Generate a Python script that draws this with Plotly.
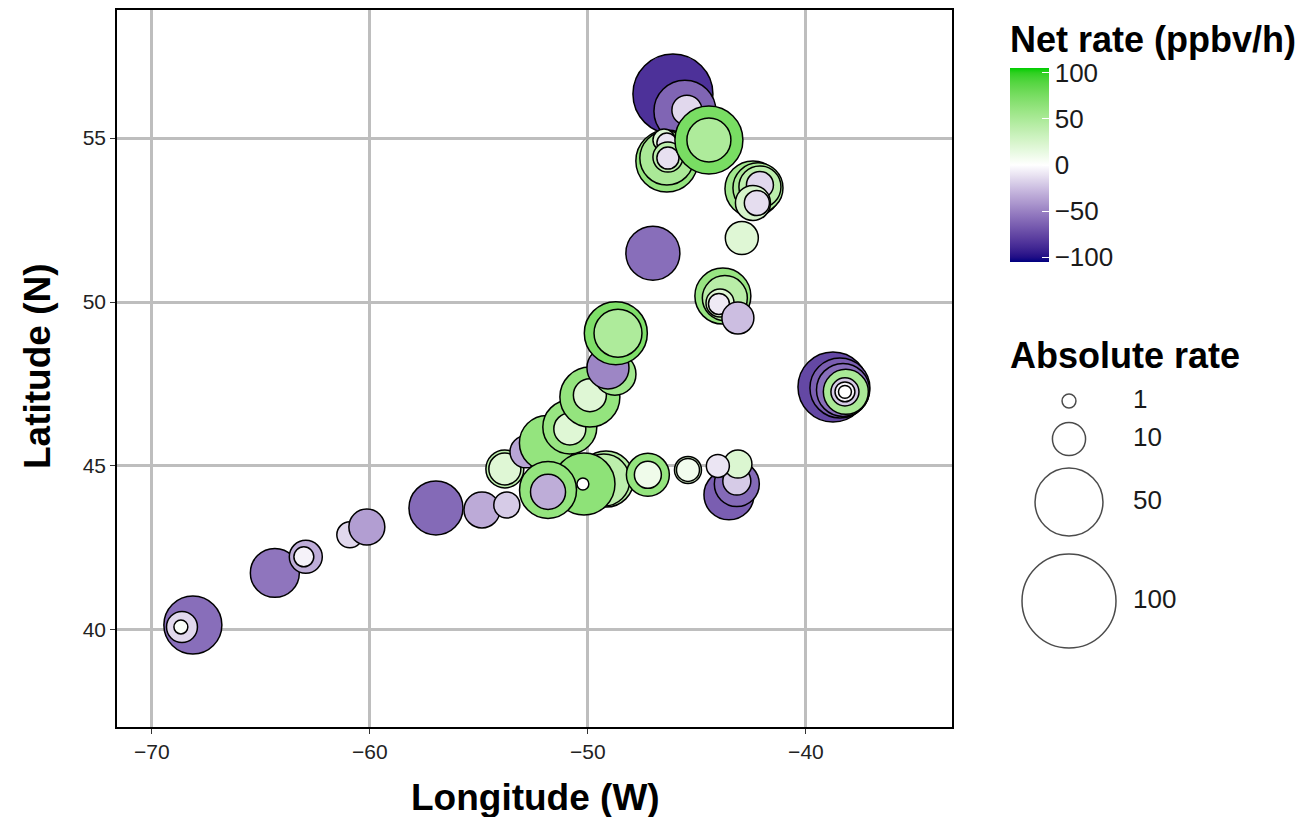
import numpy as np
import plotly.graph_objects as go

# ---------------- data ----------------
lon = [-68.12, -68.62, -68.67, -64.36, -62.94, -63.03, -60.92, -60.14, -56.97, -54.86, -53.72,
       -53.81, -53.81, -52.84, -51.88, -50.83, -50.83, -49.91, -49.91, -48.76, -49.08, -48.72, -48.62,
       -49.17, -49.27, -50.18, -51.83, -51.83, -50.23, -47.25, -47.25, -45.41, -45.41,
       -43.53, -43.17, -43.17, -43.12, -44.04,
       -46.10, -45.55, -45.46,
       -46.38, -46.38, -46.51, -46.38, -46.33, -46.33,
       -44.45, -44.45,
       -42.43, -42.20, -42.11, -42.11, -42.43, -42.25,
       -42.94, -47.02,
       -43.81, -43.72, -43.94, -43.99, -43.12,
       -38.76, -38.44, -38.30, -38.17, -38.21, -38.21, -38.21]
lat = [40.15, 40.09, 40.09, 41.74, 42.23, 42.23, 42.90, 43.14, 43.72, 43.66, 43.81,
       44.91, 44.91, 45.43, 45.70, 46.19, 46.13, 47.10, 47.16, 47.80, 47.99, 49.05, 49.05,
       44.60, 44.57, 44.45, 44.27, 44.21, 44.45, 44.73, 44.73, 44.88, 44.88,
       44.12, 44.45, 44.54, 45.06, 45.00,
       56.34, 55.82, 55.85,
       54.30, 54.39, 54.94, 54.85, 54.42, 54.39,
       54.94, 54.94,
       53.45, 53.48, 53.51, 53.57, 53.02, 53.02,
       51.95, 51.49,
       50.18, 50.12, 49.97, 49.94, 49.51,
       47.41, 47.38, 47.32, 47.26, 47.26, 47.26, 47.26]
net_rate = [-58, -15, 3, -55, -32, -5, -15, -38, -60, -33, -20,
            40, 20, -35, 62, 60, 20, 62, 20, 55, -48, 72, 48,
            45, 40, 65, 62, -32, 0, 62, 10, 28, 8,
            -65, -60, -20, 22, -10,
            -85, -62, -15,
            62, 50, 20, -10, 40, -12,
            75, 48,
            55, 50, 40, -15, 25, -13,
            20, -58,
            60, 42, 20, -8, -25,
            -75, -65, -58, 50, -20, -3, 0]
abs_rate = [35.5, 8.5, 1.0, 24.4, 9.9, 2.8, 5.6, 12.1, 30.3, 12.1, 5.6,
            13.7, 9.2, 9.2, 31.6, 30.3, 9.2, 38.2, 9.9, 17.3, 17.3, 42.5, 23.3,
            32.8, 27.9, 41.0, 34.1, 11.4, 0.6, 18.2, 6.1, 6.1, 4.1,
            25.6, 20.2, 6.7, 6.7, 4.1,
            71.0, 41.0, 7.9,
            41.0, 30.3, 3.7, 2.8, 7.9, 3.7,
            50.1, 19.2,
            32.8, 25.6, 17.3, 6.1, 11.4, 5.1,
            9.9, 30.3,
            32.8, 20.2, 6.7, 3.2, 9.2,
            53.3, 38.2, 29.1, 20.2, 6.7, 2.8, 0.8]

size_legend_vals = [1, 10, 50, 100]
size_legend_labels = ["1", "10", "50", "100"]
color_ticks = [-100, -50, 0, 50, 100]
color_ticktext = ["\u2212100", "\u221250", "0", "50", "100"]
x_ticks = [-70, -60, -50, -40]
y_ticks = [40, 45, 50, 55]

# ---------------- colour scale: Lab interpolation (gradient2 style) ----------------
def hex2rgb(h):
    h = h.lstrip('#')
    return np.array([int(h[i:i + 2], 16) for i in (0, 2, 4)], float)

M = np.array([[0.4124, 0.3576, 0.1805], [0.2126, 0.7152, 0.0722], [0.0193, 0.1192, 0.9505]])
WHITE_PT = np.array([0.95047, 1.0, 1.08883])

def rgb2lab(rgb):
    c = rgb / 255.0
    lin = np.where(c > 0.04045, ((c + 0.055) / 1.055) ** 2.4, c / 12.92)
    xyz = M @ lin / WHITE_PT
    f = np.where(xyz > 0.008856, np.cbrt(xyz), 7.787 * xyz + 16 / 116)
    return np.array([116 * f[1] - 16, 500 * (f[0] - f[1]), 200 * (f[1] - f[2])])

def lab2rgb(lab):
    L, a, b = lab
    fy = (L + 16) / 116
    fx = fy + a / 500
    fz = fy - b / 200
    f = np.array([fx, fy, fz])
    xyz = np.where(f ** 3 > 0.008856, f ** 3, (f - 16 / 116) / 7.787) * WHITE_PT
    lin = np.linalg.inv(M) @ xyz
    lin = np.clip(lin, 0, 1)
    c = np.where(lin > 0.0031308, 1.055 * lin ** (1 / 2.4) - 0.055, 12.92 * lin)
    c = np.clip(c * 255, 0, 255).round().astype(int)
    return "rgb(%d,%d,%d)" % tuple(c)

low, mid, high = rgb2lab(hex2rgb("#000080")), rgb2lab(hex2rgb("#FFFFFF")), rgb2lab(hex2rgb("#00CD00"))
colorscale = []
for t in np.linspace(0, 1, 41):
    v = 2 * t - 1
    lab = mid + (low - mid) * (-v) if v < 0 else mid + (high - mid) * v
    colorscale.append([float(t), lab2rgb(lab)])

CLIM = 105

def diam(v):
    return 5 + 8.9 * np.sqrt(np.asarray(v, float))

# page body has an 8px margin, so the figure is drawn 8px in from the window corner
OFF = 8
W, H = 1311 - OFF, 817 - OFF
def px_x(p): return (p - OFF) / W
def px_y(p): return 1 - (p - OFF) / H

FONT = "Liberation Sans, Arial, sans-serif"

fig = go.Figure()
fig.add_trace(go.Scatter(
    x=lon, y=lat, mode="markers",
    marker=dict(size=diam(abs_rate), color=net_rate, colorscale=colorscale,
                cmin=-CLIM, cmax=CLIM, opacity=1,
                line=dict(color="black", width=1.5),
                colorbar=dict(x=px_x(1010), xanchor="left", y=px_y(165), yanchor="middle",
                              xpad=0, ypad=0,
                              lenmode="pixels", len=194, thickness=39, outlinewidth=0,
                              tickvals=color_ticks, ticktext=color_ticktext,
                              ticks="inside", tickcolor="white", ticklen=7, tickwidth=1.2,
                              tickfont=dict(family=FONT, size=26, color="#1a1a1a"))),
    showlegend=False, hoverinfo="x+y"))

# size legend on auxiliary axes (pixel-like units)
leg_y = [401, 439, 502, 601]
fig.add_trace(go.Scatter(
    x=[1069] * 4, y=leg_y, mode="markers", xaxis="x2", yaxis="y2",
    marker=dict(size=diam(size_legend_vals), color="white", line=dict(color="black", width=1.5)),
    showlegend=False, hoverinfo="skip"))
fig.add_trace(go.Scatter(
    x=[1133] * 4, y=leg_y, mode="text", xaxis="x2", yaxis="y2",
    text=size_legend_labels, textposition="middle right",
    textfont=dict(family=FONT, size=26, color="#1a1a1a"),
    showlegend=False, hoverinfo="skip"))

axis_common = dict(showgrid=True, gridcolor="#bebebe", gridwidth=2.6, zeroline=False,
                   showline=True, mirror=True, linecolor="black", linewidth=1.6,
                   ticks="outside", ticklen=5, tickcolor="#333333", tickwidth=1.3,
                   tickfont=dict(family=FONT, size=21, color="#222222"), automargin=False)

fig.update_layout(
    width=W, height=H, margin=dict(l=0, r=0, t=0, b=0),
    paper_bgcolor="white", plot_bgcolor="white",
    xaxis=dict(domain=[px_x(117), px_x(952)], range=[-71.6, -33.3], tickvals=x_ticks, **axis_common),
    yaxis=dict(domain=[px_y(727), px_y(9.5)], range=[37.04, 58.92], tickvals=y_ticks, **axis_common),
    xaxis2=dict(domain=[px_x(1000), px_x(1300)], range=[1000, 1300], visible=False, anchor="y2"),
    yaxis2=dict(domain=[px_y(680), px_y(370)], range=[680, 370], visible=False, anchor="x2"),
    annotations=[
        dict(text="<b>Longitude (W)</b>", x=px_x(535), y=px_y(797), xref="paper", yref="paper",
             showarrow=False, font=dict(family=FONT, size=37, color="black"), xanchor="center", yanchor="middle"),
        dict(text="<b>Latitude (N)</b>", x=px_x(37), y=px_y(366), xref="paper", yref="paper",
             showarrow=False, textangle=-90, font=dict(family=FONT, size=37, color="black"),
             xanchor="center", yanchor="middle"),
        dict(text="<b>Net rate (ppbv/h)</b>", x=px_x(1008), y=px_y(40), xref="paper", yref="paper",
             showarrow=False, font=dict(family=FONT, size=36, color="black"), xanchor="left", yanchor="middle"),
        dict(text="<b>Absolute rate</b>", x=px_x(1008), y=px_y(355), xref="paper", yref="paper",
             showarrow=False, font=dict(family=FONT, size=36, color="black"), xanchor="left", yanchor="middle"),
    ],
)

fig.write_html("out.html")
